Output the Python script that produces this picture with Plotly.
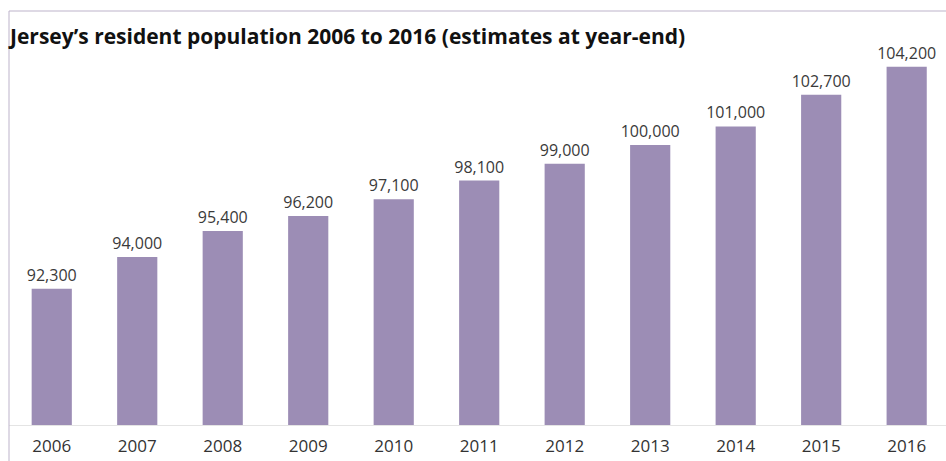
import plotly.graph_objects as go

years = ["2006", "2007", "2008", "2009", "2010", "2011", "2012", "2013", "2014", "2015", "2016"]
population = [92300, 94000, 95400, 96200, 97100, 98100, 99000, 100000, 101000, 102700, 104200]
labels = [f"{v:,}" for v in population]

title_text = "Jersey\u2019s resident population 2006 to 2016 (estimates at year-end)"

BAR = "#9c8db5"
BORDER = "#bdb3ca"
FONT = "Open Sans"

fig = go.Figure(
    go.Bar(
        x=years,
        y=population,
        text=labels,
        textposition="outside",
        constraintext="none",
        textfont=dict(family=FONT, size=16, color="#3a3a3a"),
        marker=dict(color=BAR, line=dict(width=0)),
        cliponaxis=False,
        hoverinfo="skip",
    )
)

fig.update_layout(
    width=946,
    height=461,
    margin=dict(l=9, r=0, t=11, b=36),
    paper_bgcolor="white",
    plot_bgcolor="white",
    showlegend=False,
    bargap=0.53,
    font=dict(family=FONT, color="#333333"),
    title=dict(
        text="<b>" + title_text + "</b>",
        x=10 / 946,
        xanchor="left",
        xref="container",
        y=1 - 37 / 461,
        yanchor="middle",
        yref="container",
        font=dict(family=FONT, size=21, color="#111111"),
    ),
    xaxis=dict(
        type="category",
        range=[-0.5, 10.46],
        showline=True,
        linecolor="#e4e4e4",
        linewidth=1,
        showgrid=False,
        ticks="",
        tickfont=dict(family=FONT, size=17, color="#333333"),
        ticklabelstandoff=6,
        fixedrange=True,
    ),
    yaxis=dict(
        range=[85000, 107186],
        visible=False,
        showgrid=False,
        zeroline=False,
        fixedrange=True,
    ),
    shapes=[
        dict(type="line", xref="paper", yref="paper", x0=0, x1=0, y0=-0.09, y1=1,
             line=dict(color=BORDER, width=1)),
        dict(type="line", xref="paper", yref="paper", x0=0, x1=1.01, y0=1, y1=1,
             line=dict(color=BORDER, width=1)),
    ],
)

fig.write_html(
    "out.html",
    config={"displayModeBar": False},
    post_script="document.body.style.margin='0';document.body.style.overflow='hidden';",
)
